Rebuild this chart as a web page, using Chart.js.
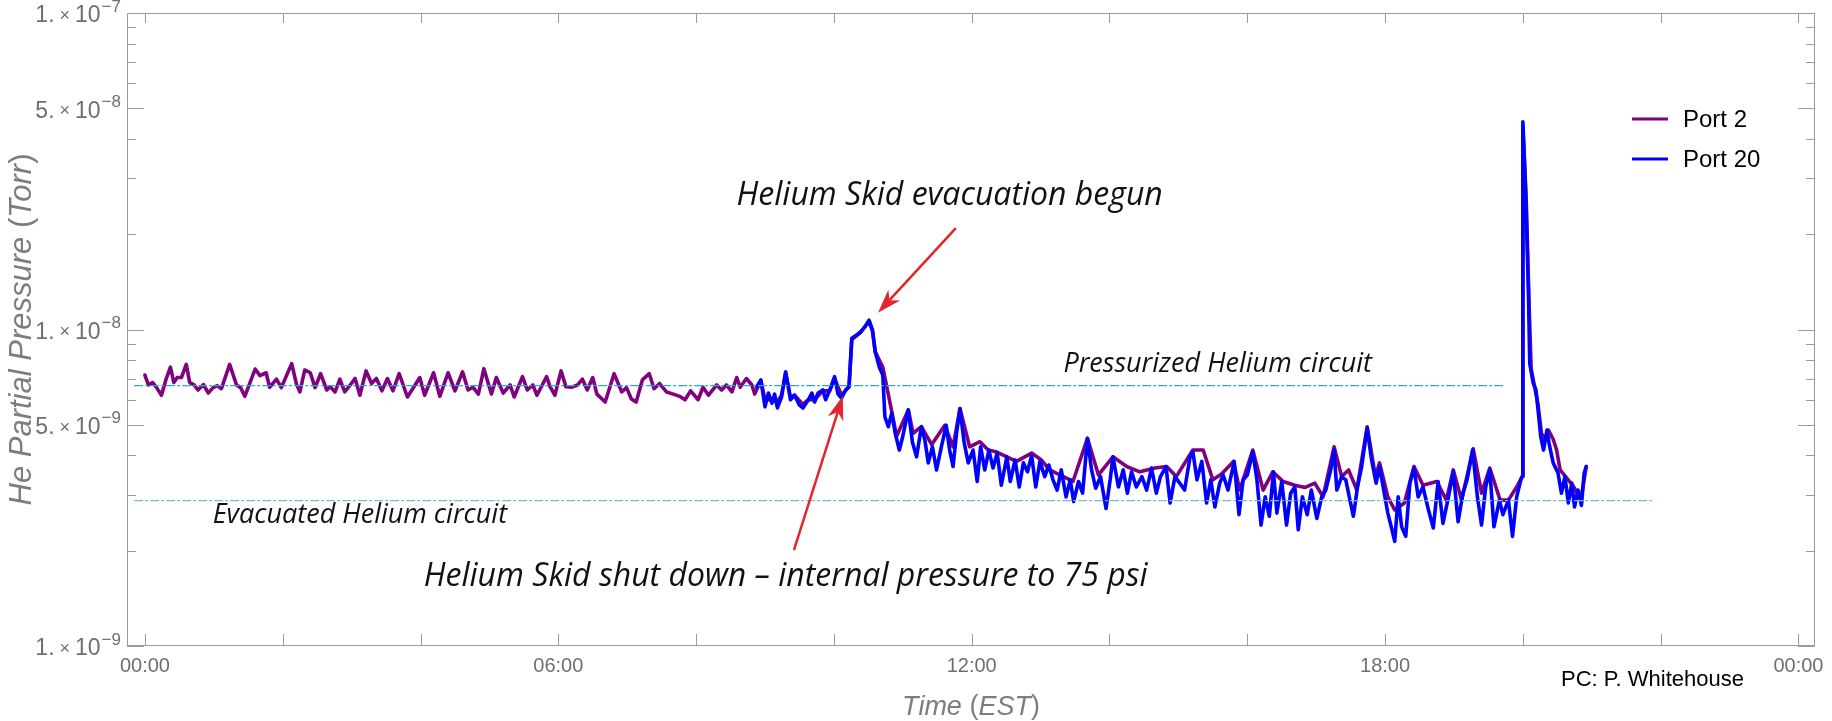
<!DOCTYPE html>
<html>
<head>
<meta charset="utf-8">
<title>He partial pressure – Port 2 / Port 20</title>
<script src="https://cdn.jsdelivr.net/npm/chart.js@4.4.1/dist/chart.umd.min.js"></script>
<style>
  html, body { margin: 0; padding: 0; background: #fff; }
  canvas { display: block; }
</style>
</head>
<body>
<canvas id="rga" width="1832" height="721"></canvas>
<script>
/* ─── RGA helium trend, ports 2 and 20 ─────────────────── */

// time in hours after midnight (EST), pressure in units of 1e-9 Torr
const port2Hours = [
  0.00, 0.05, 0.11, 0.16, 0.24, 0.31, 0.37, 0.42, 0.47, 0.53, 0.60, 0.65, 0.71, 0.77, 0.85, 0.92,
  0.99, 1.05, 1.11, 1.23, 1.33, 1.39, 1.45, 1.60, 1.67, 1.76, 1.81, 1.91, 1.98, 2.13, 2.20, 2.25,
  2.32, 2.40, 2.47, 2.55, 2.64, 2.69, 2.76, 2.83, 2.90, 2.98, 3.05, 3.12, 3.21, 3.29, 3.36, 3.44,
  3.52, 3.60, 3.69, 3.81, 3.90, 3.99, 4.06, 4.19, 4.28, 4.40, 4.50, 4.61, 4.69, 4.76, 4.84, 4.92,
  5.00, 5.03, 5.10, 5.20, 5.30, 5.36, 5.48, 5.55, 5.63, 5.69, 5.83, 5.88, 5.95, 6.04, 6.11, 6.19,
  6.28, 6.35, 6.42, 6.50, 6.56, 6.68, 6.81, 6.92, 6.99, 7.06, 7.13, 7.22, 7.32, 7.39, 7.47, 7.57,
  7.67, 7.76, 7.84, 7.92, 8.03, 8.10, 8.18, 8.30, 8.37, 8.44, 8.52, 8.59, 8.64, 8.73, 8.81, 8.85,
  8.94, 9.00, 9.10, 9.18, 9.24, 9.30, 9.37, 9.43, 9.55, 9.63, 9.72, 9.84, 9.94, 10.01, 10.11, 10.22,
  10.26, 10.39, 10.51, 10.56, 10.60, 10.71, 10.84, 10.91, 11.08, 11.15, 11.27, 11.42, 11.61, 11.73, 11.83, 11.97,
  12.12, 12.24, 12.35, 12.51, 12.65, 12.87, 13.01, 13.13, 13.33, 13.47, 13.68, 13.84, 14.05, 14.25, 14.44, 14.66,
  14.83, 14.97, 15.21, 15.36, 15.50, 15.63, 15.80, 15.89, 16.08, 16.23, 16.37, 16.52, 16.69, 16.84, 16.98, 17.10,
  17.26, 17.37, 17.47, 17.59, 17.74, 17.86, 17.92, 18.04, 18.14, 18.28, 18.42, 18.55, 18.75, 18.89, 18.99, 19.11,
  19.28, 19.40, 19.52, 19.67, 19.79, 19.91, 19.99, 20.00, 20.05, 20.09, 20.12, 20.17, 20.22, 20.27, 20.32, 20.37,
  20.44, 20.49, 20.54, 20.62, 20.74, 20.84, 20.92
];
const port2Ntorr = [
  7.18, 6.68, 6.80, 6.60, 6.20, 7.00, 7.60, 6.80, 7.05, 7.05, 7.76, 6.80, 6.70, 6.44, 6.70, 6.30,
  6.55, 6.65, 6.50, 7.76, 6.68, 6.55, 6.15, 7.50, 7.15, 7.30, 6.57, 6.97, 6.55, 7.80, 6.72, 6.35,
  7.45, 7.30, 6.55, 7.25, 6.44, 6.60, 6.35, 6.97, 6.35, 6.68, 7.00, 6.20, 7.40, 6.75, 7.00, 6.40,
  7.00, 6.40, 7.25, 6.12, 6.57, 7.05, 6.20, 7.30, 6.15, 7.30, 6.40, 7.35, 6.44, 6.57, 6.25, 7.52,
  6.57, 6.25, 7.05, 6.30, 6.68, 6.12, 7.10, 6.44, 6.68, 6.20, 7.10, 6.60, 6.20, 7.40, 6.60, 6.57,
  6.68, 6.97, 6.44, 7.05, 6.25, 5.90, 7.25, 6.35, 6.55, 6.03, 5.90, 6.93, 7.25, 6.50, 6.75, 6.35,
  6.25, 6.15, 6.00, 6.40, 6.00, 6.57, 6.20, 6.68, 6.44, 6.68, 6.35, 7.05, 6.57, 7.00, 6.68, 6.25,
  6.90, 6.00, 6.00, 5.90, 6.20, 7.30, 6.10, 6.20, 5.80, 6.00, 6.00, 6.40, 6.40, 7.00, 6.20, 6.60,
  9.30, 9.80, 10.6, 9.90, 8.50, 7.60, 5.50, 4.60, 5.57, 4.70, 4.93, 4.33, 4.98, 4.26, 5.63, 4.26,
  4.42, 4.16, 4.11, 3.96, 3.83, 4.07, 3.87, 3.60, 3.43, 3.31, 4.53, 3.47, 3.96, 3.69, 3.55, 3.65,
  3.69, 3.43, 4.16, 4.16, 3.35, 3.50, 3.83, 3.11, 4.16, 3.11, 3.55, 3.31, 3.22, 3.17, 3.27, 2.96,
  4.26, 3.43, 3.60, 3.11, 4.93, 3.43, 3.79, 2.96, 2.69, 2.83, 3.69, 3.22, 3.31, 2.89, 3.60, 2.89,
  4.20, 3.04, 3.65, 2.89, 2.89, 3.18, 3.43, 44.0, 25.0, 12.0, 7.50, 6.60, 5.80, 4.70, 4.50, 4.81,
  4.50, 4.16, 3.60, 3.43, 3.18, 2.89, 3.69
];

const port20Hours = [
  8.88, 8.94, 9.00, 9.05, 9.10, 9.14, 9.18, 9.24, 9.30, 9.37, 9.43, 9.50, 9.55, 9.63, 9.68, 9.72,
  9.77, 9.84, 9.88, 9.94, 10.01, 10.06, 10.11, 10.17, 10.22, 10.26, 10.33, 10.39, 10.45, 10.51, 10.56, 10.60,
  10.66, 10.71, 10.74, 10.79, 10.84, 10.89, 10.95, 11.00, 11.08, 11.14, 11.20, 11.27, 11.32, 11.37, 11.43, 11.49,
  11.56, 11.63, 11.68, 11.73, 11.78, 11.83, 11.89, 11.95, 12.02, 12.08, 12.13, 12.19, 12.25, 12.31, 12.37, 12.43,
  12.51, 12.56, 12.63, 12.69, 12.75, 12.81, 12.87, 12.93, 12.99, 13.06, 13.12, 13.18, 13.24, 13.30, 13.37, 13.43,
  13.48, 13.55, 13.61, 13.68, 13.74, 13.80, 13.87, 13.95, 14.01, 14.05, 14.13, 14.20, 14.26, 14.32, 14.39, 14.47,
  14.54, 14.61, 14.68, 14.74, 14.82, 14.88, 14.95, 15.02, 15.09, 15.17, 15.21, 15.27, 15.34, 15.41, 15.47, 15.53,
  15.60, 15.65, 15.72, 15.81, 15.88, 15.94, 16.00, 16.08, 16.14, 16.20, 16.26, 16.32, 16.38, 16.43, 16.50, 16.57,
  16.63, 16.69, 16.74, 16.80, 16.87, 16.93, 17.01, 17.08, 17.14, 17.21, 17.26, 17.30, 17.37, 17.43, 17.49, 17.54,
  17.60, 17.66, 17.74, 17.80, 17.87, 17.92, 17.98, 18.04, 18.09, 18.14, 18.19, 18.24, 18.30, 18.36, 18.42, 18.48,
  18.55, 18.63, 18.70, 18.77, 18.84, 18.92, 18.99, 19.06, 19.13, 19.19, 19.27, 19.34, 19.40, 19.46, 19.52, 19.58,
  19.66, 19.71, 19.79, 19.85, 19.91, 19.97, 19.99, 20.00, 20.04, 20.08, 20.10, 20.15, 20.19, 20.22, 20.26, 20.30,
  20.35, 20.38, 20.44, 20.51, 20.56, 20.61, 20.66, 20.71, 20.75, 20.80, 20.85, 20.89, 20.92
];
const port20Ntorr = [
  6.60, 6.93, 5.70, 6.30, 5.85, 6.25, 5.65, 6.12, 7.35, 6.00, 6.20, 5.77, 5.65, 6.00, 6.30, 5.90,
  6.30, 6.44, 6.00, 6.44, 7.10, 6.25, 6.07, 6.44, 6.60, 9.38, 9.60, 9.85, 10.2, 10.7, 9.96, 8.50,
  7.60, 7.18, 5.30, 4.93, 5.45, 4.70, 4.16, 4.60, 5.57, 4.40, 3.96, 4.93, 4.48, 3.79, 4.26, 3.60,
  4.26, 4.98, 4.16, 3.69, 4.70, 5.63, 4.40, 3.79, 4.16, 3.31, 4.26, 3.60, 4.16, 3.65, 4.07, 3.22,
  3.96, 3.31, 3.87, 3.18, 3.79, 3.55, 4.00, 3.18, 3.83, 3.43, 3.73, 3.35, 3.11, 3.60, 2.96, 3.35,
  2.86, 3.31, 3.04, 4.53, 3.60, 3.15, 3.43, 2.72, 3.35, 3.96, 3.18, 3.60, 3.04, 3.55, 3.18, 3.43,
  3.11, 3.65, 3.04, 3.43, 3.69, 2.83, 3.43, 3.27, 3.11, 3.96, 4.11, 3.35, 3.83, 2.83, 3.35, 2.75,
  3.27, 3.47, 3.11, 3.83, 2.60, 3.35, 3.47, 4.11, 3.35, 2.41, 2.96, 2.57, 3.55, 2.63, 3.31, 2.41,
  3.04, 3.18, 2.33, 2.96, 2.60, 3.11, 2.53, 2.96, 3.11, 3.60, 4.16, 3.11, 3.43, 3.35, 2.89, 2.57,
  3.18, 3.69, 4.88, 3.92, 3.27, 3.69, 3.11, 2.63, 2.38, 2.14, 2.96, 2.38, 2.22, 3.27, 3.65, 2.96,
  3.18, 2.69, 2.36, 3.31, 2.44, 2.96, 3.55, 2.47, 3.04, 3.35, 4.16, 2.96, 2.41, 3.18, 3.60, 2.38,
  2.89, 2.60, 2.89, 2.22, 2.96, 3.35, 3.43, 45.3, 27.6, 13.3, 7.80, 6.77, 6.44, 5.57, 4.58, 4.16,
  4.81, 4.37, 3.79, 3.52, 3.04, 3.43, 2.83, 3.27, 2.75, 3.11, 2.78, 3.52, 3.69
];

// reference levels for the two states of the helium circuit (1e-9 Torr)
const pressurizedLevel = 6.65;
const pressurizedSpan = [-0.15, 19.74];
const evacuatedLevel = 2.88;
const evacuatedSpan = [-0.15, 21.87];

// axis ticks
const hourTicks = [0, 2, 4, 6, 8, 10, 12, 14, 16, 18, 20, 22, 24];
const hourLabelAt = [0, 6, 12, 18, 24];
const hourLabelText = ['00:00', '06:00', '12:00', '18:00', '00:00'];
const pressureLabelMant = [1, 5, 1, 5, 1];
const pressureLabelExp = [-9, -9, -8, -8, -7];

const PURPLE = '#800080';
const BLUE = '#0000ff';
const FRAME = '#9b9b9b';
const TICK_TEXT = '#6f6f6f';
const TITLE_TEXT = '#7d7d7d';
const SANS = '"Liberation Sans", Arial, sans-serif';
const NOTE_FONT = '"Open Sans", "Noto Sans", sans-serif';

const toPoints = (hours, ntorr) => hours.map((h, i) => ({ x: h, y: ntorr[i] * 1e-9 }));
const levelLine = (span, level) => span.map(h => ({ x: h, y: level * 1e-9 }));

// text placed in data coordinates (hours, 1e-9 Torr)
const notes = [
  { text: 'Helium Skid evacuation begun', h: 11.68, p: 26.4, size: 32 },
  { text: 'Helium Skid shut down – internal pressure to 75 psi', h: 9.30, p: 1.65, size: 32 },
  { text: 'Pressurized Helium circuit', h: 15.57, p: 7.78, size: 27 },
  { text: 'Evacuated Helium circuit', h: 3.12, p: 2.59, size: 27 },
];
const arrows = [
  { from: [11.77, 20.9], to: [10.64, 11.3] },
  { from: [9.42, 2.01], to: [10.13, 6.17] },
];

function strokeLine(ctx, x0, y0, x1, y1) {
  ctx.beginPath();
  ctx.moveTo(x0, y0);
  ctx.lineTo(x1, y1);
  ctx.stroke();
}

function drawArrow(ctx, x0, y0, x1, y1) {
  const ang = Math.atan2(y1 - y0, x1 - x0);
  const c = Math.cos(ang), s = Math.sin(ang);
  const len = 24, half = 8, notch = 7;
  ctx.strokeStyle = '#e3262b';
  ctx.fillStyle = '#e3262b';
  ctx.lineWidth = 2.5;
  strokeLine(ctx, x0, y0, x1 - c * (len - notch), y1 - s * (len - notch));
  ctx.beginPath();
  ctx.moveTo(x1, y1);
  ctx.lineTo(x1 - c * len - s * half, y1 - s * len + c * half);
  ctx.lineTo(x1 - c * (len - notch), y1 - s * (len - notch));
  ctx.lineTo(x1 - c * len + s * half, y1 - s * len - c * half);
  ctx.closePath();
  ctx.fill();
}

// "1.×10⁻⁹" style label, right-aligned at xRight
function drawSciLabel(ctx, mant, exp, xRight, cy) {
  const parts = [
    { t: mant + '.', f: '23px ' + SANS, dy: 0, gap: 5 },
    { t: '×', f: '18px ' + SANS, dy: 0, gap: 5 },
    { t: '10', f: '23px ' + SANS, dy: 0, gap: 1 },
    { t: '−' + Math.abs(exp), f: '17px ' + SANS, dy: -9, gap: 0 },
  ];
  let total = 0;
  for (const p of parts) {
    ctx.font = p.f;
    p.w = ctx.measureText(p.t).width;
    total += p.w + p.gap;
  }
  let x = xRight - total;
  for (const p of parts) {
    ctx.font = p.f;
    ctx.fillText(p.t, x, cy + p.dy);
    x += p.w + p.gap;
  }
}

// mixed italic / upright title pieces drawn in sequence, centred on (cx, cy)
function drawMixedTitle(ctx, pieces, size, cx, cy) {
  let total = 0;
  for (const [t, it] of pieces) {
    ctx.font = (it ? 'italic ' : '') + size + 'px ' + SANS;
    total += ctx.measureText(t).width;
  }
  let x = cx - total / 2;
  for (const [t, it] of pieces) {
    ctx.font = (it ? 'italic ' : '') + size + 'px ' + SANS;
    ctx.fillText(t, x, cy);
    x += ctx.measureText(t).width;
  }
}

const frameAndNotes = {
  id: 'frameAndNotes',
  afterDraw(chart) {
    const { ctx, chartArea: a, scales: { x, y } } = chart;
    ctx.save();

    // frame
    ctx.strokeStyle = FRAME;
    ctx.lineWidth = 1;
    ctx.strokeRect(a.left + 0.5, a.top + 0.5, a.right - a.left - 1, a.bottom - a.top - 1);

    // pressure ticks on both sides, longer at 1 and 5
    for (let e = -9; e <= -7; e++) {
      for (let m = 1; m <= 9; m++) {
        if (e === -7 && m > 1) break;
        const py = Math.round(y.getPixelForValue(m * Math.pow(10, e))) + 0.5;
        const len = (m === 1 || m === 5) ? 17 : 9;
        strokeLine(ctx, a.left, py, a.left + len, py);
        strokeLine(ctx, a.right, py, a.right - len, py);
      }
    }
    // time ticks top and bottom
    for (const h of hourTicks) {
      const px = Math.round(x.getPixelForValue(h)) + 0.5;
      strokeLine(ctx, px, a.bottom, px, a.bottom - 12);
      strokeLine(ctx, px, a.top, px, a.top + 10);
    }

    // tick labels
    ctx.fillStyle = TICK_TEXT;
    ctx.textBaseline = 'middle';
    ctx.textAlign = 'center';
    ctx.font = '20px ' + SANS;
    hourLabelAt.forEach((h, i) => {
      ctx.fillText(hourLabelText[i], x.getPixelForValue(h), a.bottom + 20);
    });
    ctx.textAlign = 'left';
    pressureLabelMant.forEach((m, i) => {
      const v = m * Math.pow(10, pressureLabelExp[i]);
      drawSciLabel(ctx, m, pressureLabelExp[i], a.left - 6, y.getPixelForValue(v) + 3);
    });

    // axis titles
    ctx.fillStyle = TITLE_TEXT;
    drawMixedTitle(ctx, [['Time ', true], ['(', false], ['EST', true], [')', false]], 27,
      (a.left + a.right) / 2, 707);
    ctx.save();
    ctx.translate(22, (a.top + a.bottom) / 2);
    ctx.rotate(-Math.PI / 2);
    drawMixedTitle(ctx, [['He Partial Pressure ', true], ['(', false], ['Torr', true], [')', false]], 31, 0, 0);
    ctx.restore();

    // legend
    const legend = [['Port 2', PURPLE], ['Port 20', BLUE]];
    ctx.font = '24px ' + SANS;
    ctx.lineWidth = 3;
    legend.forEach(([label, color], i) => {
      const ly = 119 + i * 40;
      ctx.strokeStyle = color;
      strokeLine(ctx, a.right - 183, ly, a.right - 147, ly);
      ctx.fillStyle = '#000';
      ctx.fillText(label, a.right - 132, ly + 1);
    });

    // credit
    ctx.font = '22px ' + SANS;
    ctx.textAlign = 'right';
    ctx.fillStyle = '#000';
    ctx.fillText('PC: P. Whitehouse', 1744, 680);

    // annotations and arrows
    ctx.textAlign = 'center';
    ctx.fillStyle = '#111';
    for (const n of notes) {
      ctx.font = 'italic ' + n.size + 'px ' + NOTE_FONT;
      ctx.fillText(n.text, x.getPixelForValue(n.h), y.getPixelForValue(n.p * 1e-9));
    }
    for (const ar of arrows) {
      drawArrow(ctx,
        x.getPixelForValue(ar.from[0]), y.getPixelForValue(ar.from[1] * 1e-9),
        x.getPixelForValue(ar.to[0]), y.getPixelForValue(ar.to[1] * 1e-9));
    }
    ctx.restore();
  },
};

new Chart(document.getElementById('rga'), {
  type: 'line',
  data: {
    datasets: [
      {
        label: 'Pressurized Helium circuit',
        data: levelLine(pressurizedSpan, pressurizedLevel),
        borderColor: '#2badc9',
        borderWidth: 1.3,
        borderDash: [8, 3, 2, 3],
        order: 0,
      },
      {
        label: 'Evacuated Helium circuit',
        data: levelLine(evacuatedSpan, evacuatedLevel),
        borderColor: '#6fc3d4',
        borderWidth: 1.3,
        borderDash: [8, 3, 2, 3],
        order: 0,
      },
      {
        label: 'Port 20',
        data: toPoints(port20Hours, port20Ntorr),
        borderColor: BLUE,
        borderWidth: 3.6,
        order: 1,
      },
      {
        label: 'Port 2',
        data: toPoints(port2Hours, port2Ntorr),
        borderColor: PURPLE,
        borderWidth: 3.6,
        order: 2,
      },
    ],
  },
  options: {
    responsive: false,
    animation: false,
    devicePixelRatio: 1,
    layout: { padding: { left: 127, right: 17, top: 13, bottom: 75 } },
    elements: {
      point: { radius: 0, hoverRadius: 0 },
      line: { tension: 0, borderJoinStyle: 'round', borderCapStyle: 'round', fill: false },
    },
    scales: {
      x: { type: 'linear', min: -0.26, max: 24.24, display: false },
      y: { type: 'logarithmic', min: 1e-9, max: 1e-7, display: false },
    },
    plugins: {
      legend: { display: false },
      tooltip: { enabled: false },
    },
  },
  plugins: [frameAndNotes],
});
</script>
</body>
</html>
